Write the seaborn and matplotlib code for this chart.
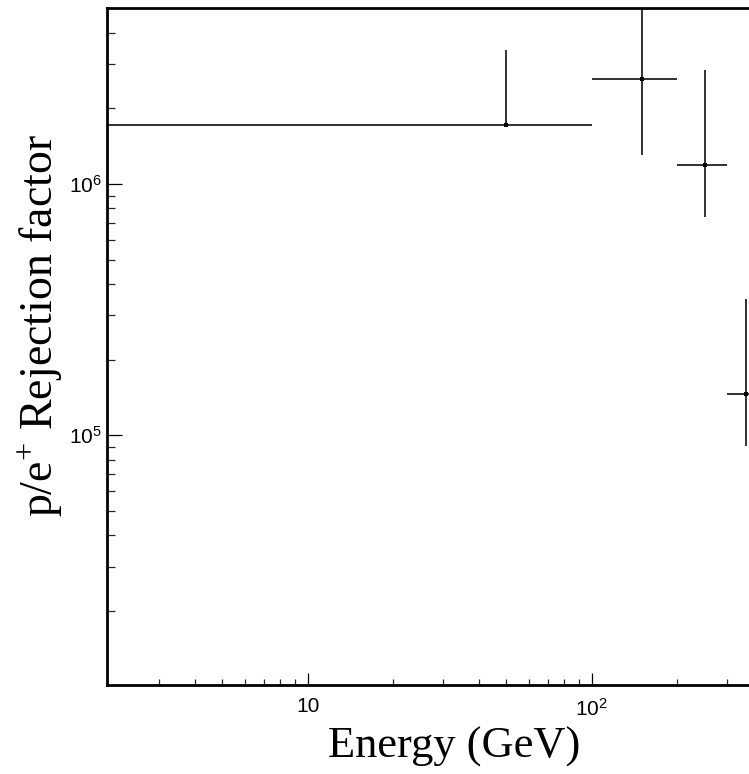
import numpy as np
import pandas as pd
import matplotlib
matplotlib.use("Agg")
import matplotlib.pyplot as plt
import seaborn as sns

# Energy bins (GeV) and measured p/e+ rejection factor with its error band
bin_low = [0, 100, 200, 300]
bin_high = [100, 200, 300, 400]
energy = [50, 150, 250, 350]
rejection = [1.717e6, 2.624e6, 1.187e6, 1.456e5]
rejection_low = [1.717e6, 1.305e6, 7.41e5, 9.07e4]
rejection_high = [3.41e6, 6.0e6, 2.842e6, 3.486e5]

x_major = [10, 100]
x_major_labels = ["10", r"$\mathregular{10^{2}}$"]
x_minor = [3, 4, 5, 6, 7, 8, 9, 20, 30, 40, 50, 60, 70, 80, 90, 200, 300]
y_major = [1e5, 1e6]
y_major_labels = [r"$\mathregular{10^{5}}$", r"$\mathregular{10^{6}}$"]
y_minor = [2e4, 3e4, 4e4, 5e4, 6e4, 7e4, 8e4, 9e4,
           2e5, 3e5, 4e5, 5e5, 6e5, 7e5, 8e5, 9e5,
           2e6, 3e6, 4e6]

sns.set_theme(style="white")
plt.rcParams["font.family"] = ["Liberation Sans", "DejaVu Sans"]
plt.rcParams["mathtext.fontset"] = "custom"
plt.rcParams["mathtext.rm"] = "Liberation Sans"

df = pd.DataFrame({
    "energy": energy,
    "rejection": rejection,
    "lo": rejection_low,
    "hi": rejection_high,
    "elo": bin_low,
    "ehi": bin_high,
})

W, H = 749, 774
fig = plt.figure(figsize=(W / 100, H / 100), dpi=100)
ax = fig.add_axes([107 / W, (H - 685) / H, (760 - 107) / W, (685 - 8) / H])
ax.set_xscale("log")
ax.set_yscale("log")
xmin, xmax = 1.962, 391.5
ax.set_xlim(xmin, xmax)
ax.set_ylim(1.015e4, 5.016e6)

line_kw = dict(color="#222222", lw=1.3)
# horizontal bin-width bars
ax.hlines(df["rejection"], np.maximum(df["elo"], xmin * 0.5), df["ehi"], **line_kw)
# vertical error bars
ax.vlines(df["energy"], df["lo"], df["hi"], **line_kw)
sns.scatterplot(data=df, x="energy", y="rejection", marker="s", color="black",
                s=9, linewidth=0, ax=ax, zorder=3, legend=False)

for side in ["left", "bottom", "top"]:
    ax.spines[side].set_linewidth(2.0)
    ax.spines[side].set_color("black")
ax.spines["right"].set_visible(False)

ax.set_xticks(x_major)
ax.set_xticklabels(x_major_labels)
ax.set_xticks(x_minor, minor=True)
ax.set_xticklabels([], minor=True)
ax.set_yticks(y_major)
ax.set_yticklabels(y_major_labels)
ax.set_yticks(y_minor, minor=True)
ax.set_yticklabels([], minor=True)

ax.tick_params(axis="x", which="major", direction="in", length=8.6, width=0.9,
               labelsize=15, pad=9, colors="black", bottom=True, top=False)
ax.tick_params(axis="x", which="minor", direction="in", length=4.3, width=0.9,
               bottom=True, top=False)
ax.tick_params(axis="y", which="major", direction="in", length=10.8, width=0.9,
               labelsize=15, pad=4, colors="black", left=True, right=False)
ax.tick_params(axis="y", which="minor", direction="in", length=5.8, width=0.9,
               left=True, right=False)
ax.set_xlabel("")
ax.set_ylabel("")

serif = ["Liberation Serif", "DejaVu Serif"]
fig.text(454 / W, 1 - 758 / H, "Energy (GeV)", ha="center", va="baseline",
         fontsize=32, family=serif, color="black")
fig.text(53 / W, 1 - 326 / H, r"p/e$^{\mathregular{+}}$ Rejection factor",
         ha="center", va="baseline", rotation=90, rotation_mode="anchor",
         fontsize=33, family=serif, color="black")

fig.savefig("out.png", dpi=100, facecolor="white")
